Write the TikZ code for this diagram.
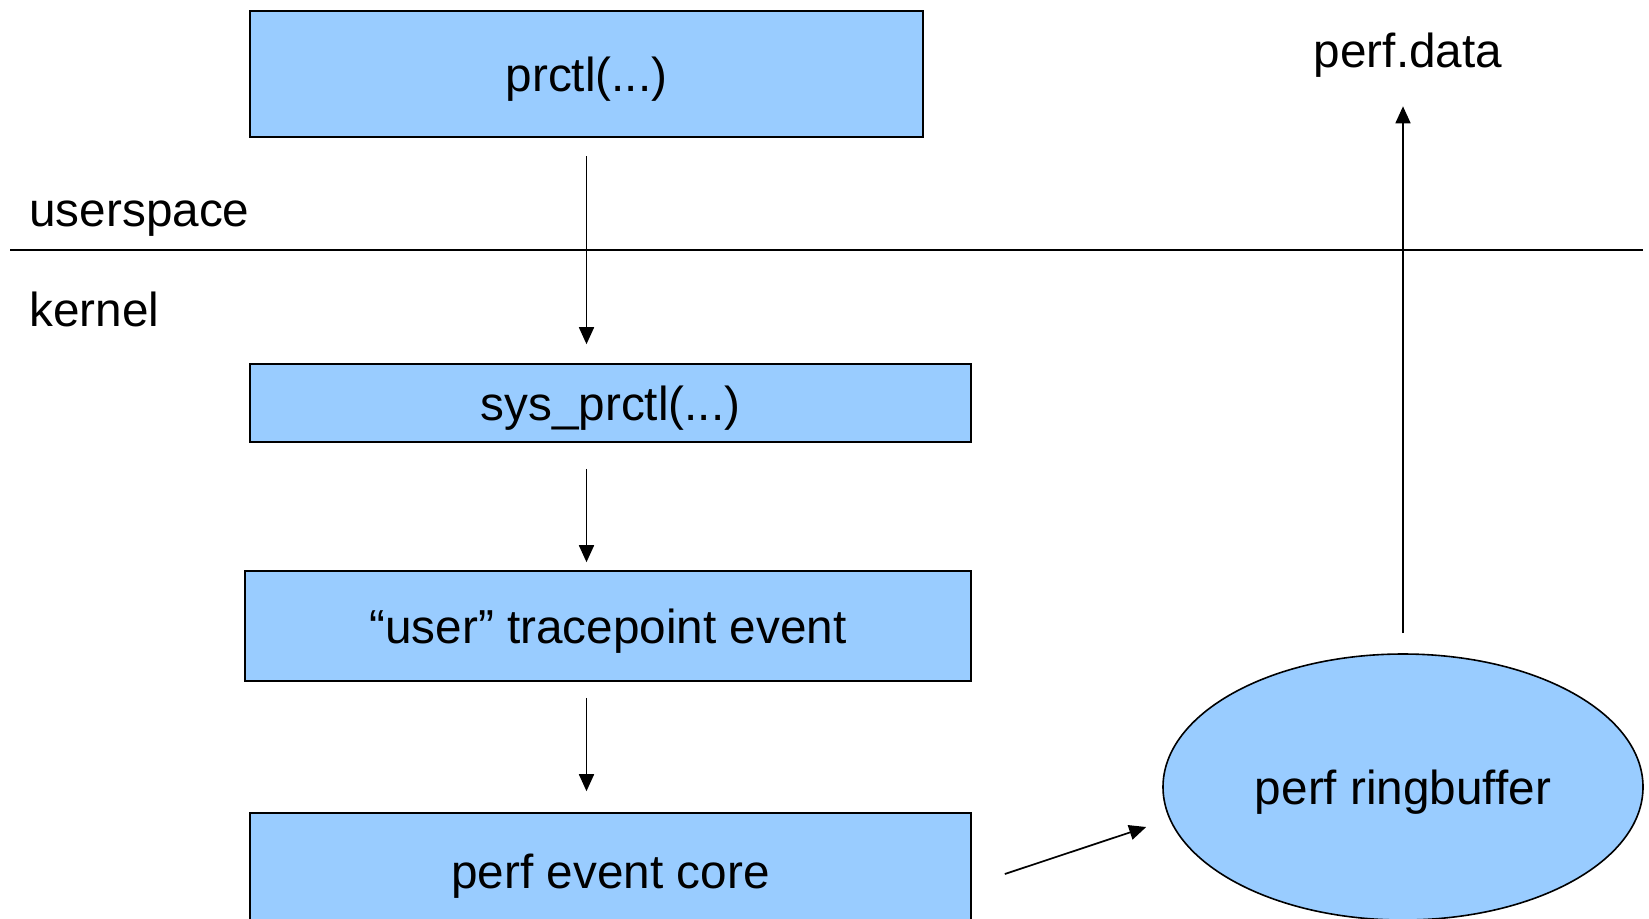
\documentclass[tikz,border=0pt]{standalone}
\usepackage{fontspec}
\setmainfont{Liberation Sans}
\usetikzlibrary{arrows.meta, positioning, shapes.geometric}
\definecolor{cBlue}{HTML}{99CCFF}

\begin{document}
\begin{tikzpicture}[
  x=0.5pt, y=-0.5pt,
  font=\fontsize{23.85pt}{28pt}\selectfont,
  fbox/.style={rectangle, draw, line width=0.8pt, fill=cBlue,
              align=center, inner sep=0pt, text depth=0pt},
  ringnode/.style={ellipse, draw, line width=0.8pt, fill=cBlue, text depth=0pt,
                   minimum width=240pt, minimum height=133pt, inner sep=0pt},
  lbl/.style={inner sep=0pt},
  arr/.style={-{Triangle[length=8.5pt, width=7.5pt]}, line width=0.85pt},
]
\useasboundingbox (0,0) rectangle (1649,918);
\clip (0,0) rectangle (1649,918);

% boxes
\node[fbox, minimum width=336.5pt, minimum height=63.25pt] (prctl) at (586.5,74) {prctl(...)};
\node[fbox, minimum width=360.5pt, minimum height=39pt] (sysp) at (610.5,403) {sys\_prctl(...)};
\node[fbox, minimum width=363pt, minimum height=55pt] (tp) at (608,626) {“user” tracepoint event};
\node[fbox, minimum width=360.5pt, minimum height=58pt] (core) at (610.5,871) {perf event core};
\node[ringnode] (ring) at (1403,787) {perf ringbuffer};

% labels
\node[lbl, anchor=base west] (user) at (29,226) {userspace};
\node[lbl, anchor=base west] (kern) at (29,326) {kernel};
\node[lbl, anchor=base] (data) at (1408,67) {perf.data};

% userspace / kernel border
\coordinate (sepL) at (10,250);
\coordinate (sepR) at (1643,250);
\draw[line width=0.7pt] (sepL) -- (sepR);

\draw[arr] ([yshift=-9pt]prctl.south) -- ([yshift=9.5pt]prctl.south |- sysp.north);
\draw[arr] ([yshift=-13pt]prctl.south |- sysp.south) -- ([yshift=4pt]prctl.south |- tp.north);
\draw[arr] ([yshift=-8pt]prctl.south |- tp.south) -- ([yshift=10.5pt]prctl.south |- core.north);
\draw[arr] ([xshift=16.5pt, yshift=-1.5pt]core.east) -- ([xshift=-8pt, yshift=-20pt]ring.west);
\draw[arr] ([yshift=10pt]ring.north) -- ([yshift=-14.5pt]ring.north |- data.south);

\end{tikzpicture}
\end{document}
